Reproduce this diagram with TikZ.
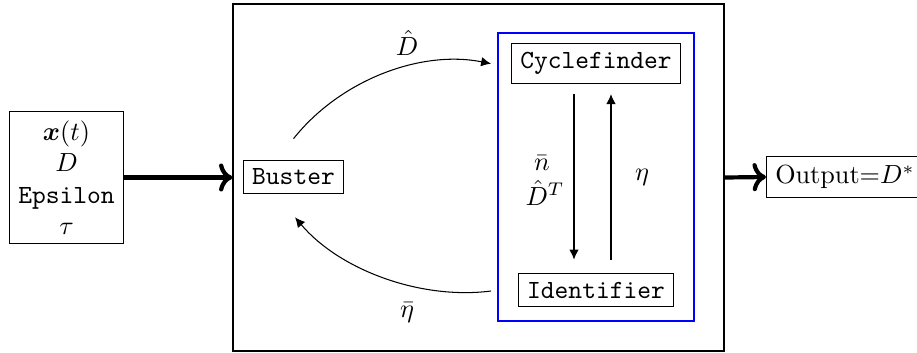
\documentclass[tikz,border=0pt]{standalone}
\usepackage{amsmath}
\usetikzlibrary{arrows.meta}
\begin{document}
\begin{tikzpicture}[x=0.3817pt,y=-0.3817pt,
  box/.style={draw,inner sep=3.33pt},
  frame/.style={draw,inner sep=0pt},
  arr/.style={-{Latex[length=3.8pt,width=3.6pt]}},
  bigarr/.style={->,ultra thick},
  lbl/.style={inner sep=0pt}]
\useasboundingbox (0,0) rectangle (917,352);
% frames
\node[frame,minimum width=491*0.3817pt,minimum height=347*0.3817pt] (outer) at (478.5,177.5) {};
\node[frame,draw=blue,minimum width=196*0.3817pt,minimum height=288*0.3817pt] (inner) at (596,177) {};
% nodes
\node[box,align=center] (input) at (66.5,177.5) {$\boldsymbol{x}(t)$\\$D$\\\texttt{Epsilon}\\$\tau$};
\node[box] (buster) at (293.5,177) {\texttt{Buster}};
\node[box] (cycle) at (596,63.7) {\texttt{Cyclefinder}};
\node[box] (ident) at (596,290) {\texttt{Identifier}};
\node[box,anchor=west] (out) at (766,177) {Output=$D^*$};
% labels
\node[lbl] (ldhat) at (407,43) {$\hat{D}$};
\node[lbl] (letabar) at (407,313) {$\bar{\eta}$};
\node[lbl] (lnbar) at (542,163) {$\bar{n}$};
\node[lbl] (ldt) at (545,193) {$\hat{D}^T$};
\node[lbl] (leta) at (642,177) {$\eta$};
% connectors
\draw[bigarr] (input.east) -- (outer.west);
\draw[bigarr] (outer.east) -- (out.west);
\draw[arr] ([shift={(0,-21)}]buster.north) .. controls +(47,-59) and +(-70,-14) .. ([shift={(-20,0)}]cycle.west);
\draw[arr] ([shift={(-27,1)}]ident.west) .. controls +(-70,9) and +(45,53) .. ([shift={(1.5,23)}]buster.south);
\draw[arr] ([shift={(-22,10)}]cycle.south) -- ([shift={(-22,-13)}]ident.north);
\draw[arr] ([shift={(15,-13)}]ident.north) -- ([shift={(15,10)}]cycle.south);
\end{tikzpicture}
\end{document}
